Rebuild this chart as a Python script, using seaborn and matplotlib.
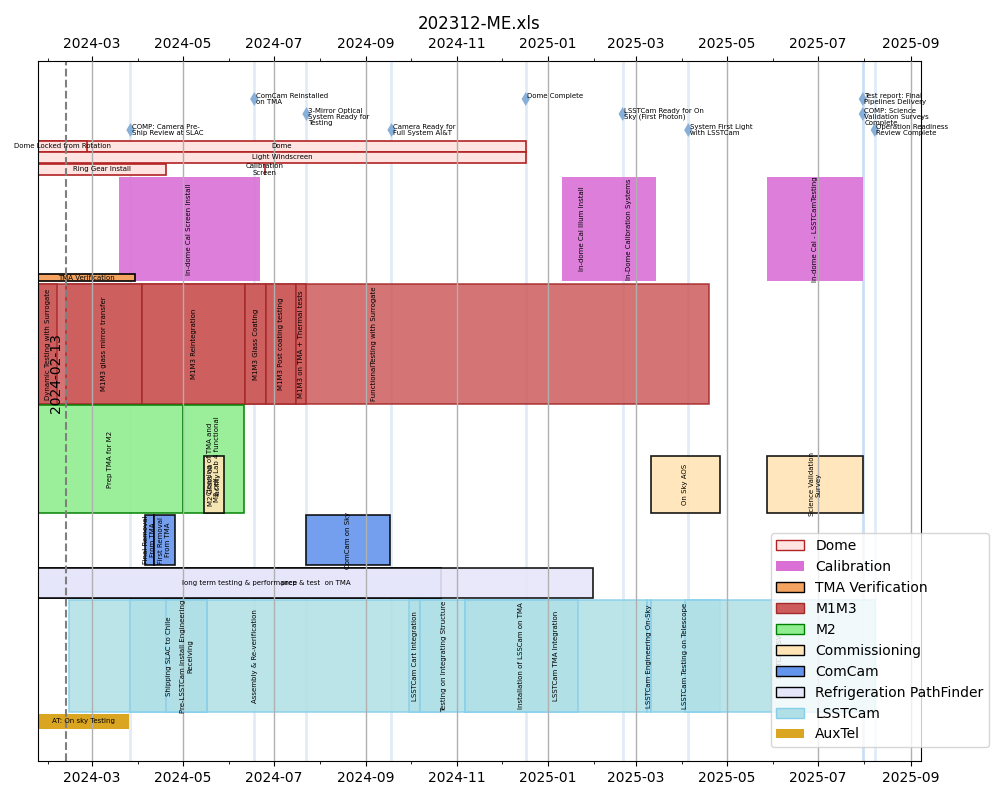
import textwrap
import matplotlib
matplotlib.use("Agg")
import matplotlib.pyplot as plt
import matplotlib.dates as mdates
from matplotlib.patches import Patch
import pandas as pd
import seaborn as sns

# ---- data -------------------------------------------------------------
task_groups = [
    "Dome", "Dome", "Dome", "Dome", "Dome",
    "Calibration", "Calibration", "Calibration", "Calibration",
    "TMA Verification",
    "M1M3", "M1M3", "M1M3", "M1M3", "M1M3", "M1M3", "M1M3",
    "M2", "M2",
    "Commissioning", "Commissioning", "Commissioning",
    "ComCam", "ComCam", "ComCam",
    "Refrigeration PathFinder", "Refrigeration PathFinder",
    "LSSTCam", "LSSTCam", "LSSTCam", "LSSTCam", "LSSTCam", "LSSTCam",
    "LSSTCam", "LSSTCam", "LSSTCam", "LSSTCam",
    "AuxTel",
]
task_names = [
    "Dome", "Dome Locked from Rotation", "Light Windscreen", "Ring Gear Install",
    "Calibration\nScreen",
    "In-dome Cal Screen Install", "In-dome Cal Illum Install",
    "In-Dome Calibration Systems", "In-dome Cal - LSSTCamTesting",
    "TMA Verification",
    "FunctionalTesting with Surrogate", "Dynamic Testing with Surrogate",
    "M1M3 glass mirror transfer", "M1M3 Reintegration", "M1M3 Glass Coating",
    "M1M3 Post coating testing", "M1M3 on TMA + Thermal tests",
    "Prep TMA for M2", "Cleaning of TMA and\nM2 cell, Lab 4 functional",
    "M2 Glass on\nfacility", "On Sky AOS", "Science Validation\nSurvey",
    "Final Removal\nFrom TMA", "First Removal\nFrom TMA", "ComCam on Sky",
    "long term testing & performance", "prep & test  on TMA",
    "Assembly & Re-verification", "Shipping SLAC to Chile",
    "Pre-LSSTCam Install Engineering\nReceiving", "LSSTCam Cart Integration",
    "Testing on Integrating Structure", "LSSTCam TMA Integration",
    "Installation of LSSCam on TMA", "LSSTCam Engineering On-Sky",
    "LSSTCam Testing on Telescope", "LSSTCam SV",
    "AT: On sky Testing",
]
task_starts = [
    "2024-01-25", "2024-01-25", "2024-01-25", "2024-01-25", "2024-06-25",
    "2024-03-19", "2025-01-10", "2025-02-06", "2025-05-28",
    "2024-01-25",
    "2024-01-25", "2024-01-25", "2024-02-13", "2024-04-04", "2024-06-12",
    "2024-06-26", "2024-07-16",
    "2024-01-25", "2024-05-01",
    "2024-05-15", "2025-03-11", "2025-05-28",
    "2024-04-06", "2024-04-12", "2024-07-23",
    "2024-01-25", "2024-01-25",
    "2024-02-15", "2024-03-27", "2024-04-20", "2024-09-30", "2024-10-07",
    "2024-11-06", "2024-11-06", "2025-03-08", "2025-03-11", "2025-04-03",
    "2024-01-25",
]
task_ends = [
    "2024-12-17", "2024-02-27", "2024-12-17", "2024-04-20", "2024-06-25",
    "2024-06-22", "2025-02-06", "2025-03-14", "2025-07-31",
    "2024-03-30",
    "2025-04-19", "2024-02-07", "2024-04-04", "2024-06-12", "2024-06-26",
    "2024-07-16", "2024-07-23",
    "2024-05-01", "2024-06-11",
    "2024-05-29", "2025-04-26", "2025-07-31",
    "2024-04-12", "2024-04-26", "2024-09-17",
    "2024-10-21", "2025-01-31",
    "2024-10-21", "2024-05-17", "2024-05-17", "2024-10-07", "2024-11-08",
    "2025-03-08", "2025-01-21", "2025-03-11", "2025-04-26", "2025-08-08",
    "2024-03-26",
]
task_rows = [0, 0, 1, 2, 2] + [0] * 33

milestone_names = [
    "COMP: Camera Pre-Ship Review at SLAC", "ComCam Reinstalled on TMA",
    "3-Mirror Optical System Ready for Testing", "Camera Ready for Full System AI&T",
    "Dome Complete", "LSSTCam Ready for On Sky (First Photon)",
    "System First Light with LSSTCam", "Test report: Final Pipelines Delivery",
    "COMP: Science Validation Surveys Complete", "Operation Readiness Review Complete",
]
milestone_dates = [
    "2024-03-27", "2024-06-18", "2024-07-23", "2024-09-18", "2024-12-17",
    "2025-02-20", "2025-04-05", "2025-07-31", "2025-07-31", "2025-08-08",
]
today = "2024-02-13"

# ---- layout / style ---------------------------------------------------
group_style = {  # face, edge, alpha
    "Dome": ("mistyrose", "firebrick", 1.0),
    "Calibration": ("orchid", "none", 0.9),
    "TMA Verification": ("sandybrown", "black", 1.0),
    "M1M3": ("indianred", "brown", 0.85),
    "M2": ("lightgreen", "green", 0.9),
    "Commissioning": ("moccasin", "black", 0.9),
    "ComCam": ("cornflowerblue", "black", 0.9),
    "Refrigeration PathFinder": ("lavender", "black", 0.9),
    "LSSTCam": ("powderblue", "skyblue", 0.85),
    "AuxTel": ("goldenrod", "none", 1.0),
}
group_lanes = {  # list of (bottom, height) per sub-row
    "Dome": [(609, 11), (598, 11), (586, 11)],
    "Calibration": [(480, 104)],
    "TMA Verification": [(480, 7)],
    "M1M3": [(357, 120)],
    "M2": [(248, 108)],
    "Commissioning": [(248, 57)],
    "ComCam": [(196, 50)],
    "Refrigeration PathFinder": [(163, 30)],
    "LSSTCam": [(49, 112)],
    "AuxTel": [(32, 15)],
}
flat_groups = {"Dome", "TMA Verification", "Refrigeration PathFinder", "AuxTel"}
milestone_levels = [631, 662, 647]

tasks = pd.DataFrame({
    "group": task_groups, "name": task_names, "row": task_rows,
    "start": pd.to_datetime(task_starts), "end": pd.to_datetime(task_ends),
})
ms = pd.DataFrame({"name": milestone_names, "date": pd.to_datetime(milestone_dates)})
ms["level"] = [milestone_levels[i % 3] for i in range(len(ms))]

fig = plt.figure(figsize=(10, 8), dpi=100)
ax = fig.add_axes([0.038, 0.04875, 0.883, 0.875])

# milestone guide lines
for d in ms["date"]:
    ax.axvline(d, color="#9dc3e6", alpha=0.3, lw=2, zorder=0.5)

for _, t in tasks.iterrows():
    face, edge, alpha = group_style[t["group"]]
    y0, h = group_lanes[t["group"]][t["row"]]
    left = mdates.date2num(t["start"])
    width = mdates.date2num(t["end"]) - left
    ax.barh(y0, width, left=left, height=h, align="edge", color=face,
            edgecolor=edge, linewidth=1.2, alpha=alpha, zorder=1)
    xc = left + width / 2
    if t["group"] in flat_groups:
        ax.text(xc, y0 + h / 2, t["name"], ha="center", va="center",
                fontsize=5, zorder=3, multialignment="center")
    else:
        ax.text(xc, y0 + h / 2, t["name"], ha="center", va="center",
                rotation=90, fontsize=5, zorder=3, multialignment="center")

sns.scatterplot(data=ms, x="date", y="level", marker="d", s=50, color="#86b0d9",
                edgecolor="none", ax=ax, legend=False, zorder=4)
for _, m in ms.iterrows():
    ax.text(m["date"] + pd.Timedelta(days=1), m["level"] + 6,
            "\n".join(textwrap.wrap(m["name"], 20)), fontsize=5,
            ha="left", va="top", zorder=4, linespacing=1.0)

ax.axvline(pd.Timestamp(today), color="gray", ls="--", lw=1.5, zorder=2)
ax.text(pd.Timestamp(today) - pd.Timedelta(days=2), 388, today, rotation=90,
        ha="right", va="center", fontsize=10)

ax.set_xlim(pd.Timestamp("2024-01-25"), pd.Timestamp("2025-09-08"))
ax.set_ylim(0, 700)
ax.set_yticks([])
ax.set_xlabel("")
ax.set_ylabel("")
ax.xaxis.set_major_locator(mdates.MonthLocator(bymonth=[1, 3, 5, 7, 9, 11]))
ax.xaxis.set_minor_locator(mdates.MonthLocator())
ax.xaxis.set_major_formatter(mdates.DateFormatter("%Y-%m"))
ax.tick_params(axis="x", which="both", top=True, labeltop=True)
ax.grid(axis="x", which="major", color="#b0b0b0", lw=1)
ax.set_axisbelow(False)
ax.set_title("202312-ME.xls", fontsize=12)

handles = [Patch(facecolor=f, edgecolor=e, label=g) for g, (f, e, a) in group_style.items()]
ax.legend(handles=handles, loc="lower right", bbox_to_anchor=(1.077, 0.02),
          borderaxespad=0, fontsize=10)

fig.savefig("out.png", dpi=100)
